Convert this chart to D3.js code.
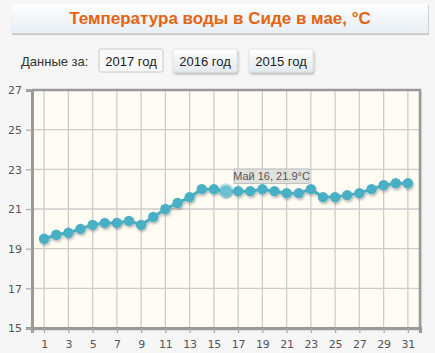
<!DOCTYPE html>
<html>
<head>
<meta charset="utf-8">
<script src="https://cdn.jsdelivr.net/npm/d3@7"></script>
<style>
  html, body { margin: 0; padding: 0; background: #f6f6f6; }
  svg { display: block; font-family: "Liberation Sans", Arial, sans-serif; }
</style>
</head>
<body>
<div id="chart"></div>
<script>
(function() {
  var days = d3.range(1, 32);
  var temps = [19.5, 19.7, 19.8, 20.0, 20.2, 20.3, 20.3, 20.4, 20.2, 20.6,
               21.0, 21.3, 21.6, 22.0, 22.0, 21.9, 21.9, 21.9, 22.0, 21.9,
               21.8, 21.8, 22.0, 21.6, 21.6, 21.7, 21.8, 22.0, 22.2, 22.3, 22.3];
  var yTicks = [15, 17, 19, 21, 23, 25, 27];
  var xTicks = [1, 3, 5, 7, 9, 11, 13, 15, 17, 19, 21, 23, 25, 27, 29, 31];
  var years = ['2017 год', '2016 год', '2015 год'];
  var title = 'Температура воды в Сиде в мае, °C';
  var hoverDay = 16;

  var W = 435, H = 353;
  var svg = d3.select('#chart').append('svg').attr('width', W).attr('height', H);
  var defs = svg.append('defs');

  var grad = defs.append('linearGradient').attr('id', 'hdr').attr('x1', 0).attr('y1', 0).attr('x2', 0).attr('y2', 1);
  grad.append('stop').attr('offset', '0%').attr('stop-color', '#ffffff');
  grad.append('stop').attr('offset', '100%').attr('stop-color', '#e7eff5');

  var bgrad = defs.append('linearGradient').attr('id', 'btn').attr('x1', 0).attr('y1', 0).attr('x2', 0).attr('y2', 1);
  bgrad.append('stop').attr('offset', '0%').attr('stop-color', '#ffffff');
  bgrad.append('stop').attr('offset', '100%').attr('stop-color', '#e3e9ee');

  var shadow = defs.append('filter').attr('id', 'shd').attr('x', '-20%').attr('y', '-20%').attr('width', '140%').attr('height', '160%');
  shadow.append('feDropShadow').attr('dx', 1).attr('dy', 2).attr('stdDeviation', 1.2)
    .attr('flood-color', '#000').attr('flood-opacity', 0.25);

  // header
  svg.append('rect').attr('x', 12).attr('y', 5).attr('width', 417).attr('height', 30).attr('fill', '#c8c8c8');
  svg.append('rect').attr('x', 11).attr('y', 3).attr('width', 417).attr('height', 30)
    .attr('fill', 'url(#hdr)').attr('stroke', '#eceff2').attr('stroke-width', 0.6);
  svg.append('text').attr('x', 220).attr('y', 24).attr('text-anchor', 'middle')
    .attr('font-size', 17).attr('font-weight', 'bold').attr('fill', '#e8630f').text(title);

  // year buttons
  svg.append('text').attr('x', 21).attr('y', 66).attr('font-size', 13).attr('fill', '#333').text('Данные за:');
  var btnX = [99, 173, 249];
  var btn = svg.selectAll('g.btn').data(years).enter().append('g').attr('class', 'btn')
    .attr('transform', function(d, i) { return 'translate(' + btnX[i] + ',49)'; });
  btn.append('rect').attr('width', 64).attr('height', 23).attr('rx', 2)
    .attr('fill', function(d, i) { return i === 0 ? '#f9f9f9' : 'url(#btn)'; })
    .attr('stroke', function(d, i) { return i === 0 ? '#c9c9c9' : '#dde2e6'; })
    .attr('filter', function(d, i) { return i === 0 ? null : 'url(#shd)'; });
  btn.append('text').attr('x', 32).attr('y', 16.5).attr('text-anchor', 'middle')
    .attr('font-size', 13).attr('fill', '#222').text(function(d) { return d; });

  // chart
  var x = d3.scaleLinear().domain([0, 32]).range([32, 420]);
  var y = d3.scaleLinear().domain([15, 27]).range([328, 90]);

  svg.append('rect').attr('x', x(0)).attr('y', y(27)).attr('width', x(32) - x(0)).attr('height', y(15) - y(27))
    .attr('fill', '#fffcf3').attr('filter', 'url(#shd)');

  svg.append('g').selectAll('line').data(xTicks).enter().append('line')
    .attr('x1', function(d) { return x(d); }).attr('x2', function(d) { return x(d); })
    .attr('y1', y(27)).attr('y2', y(15)).attr('stroke', '#cccccc').attr('stroke-width', 1.3);
  svg.append('g').selectAll('line').data(yTicks.slice(1, -1)).enter().append('line')
    .attr('x1', x(0)).attr('x2', x(32))
    .attr('y1', function(d) { return y(d); }).attr('y2', function(d) { return y(d); })
    .attr('stroke', '#cccccc').attr('stroke-width', 1.3);

  // frame
  svg.append('path').attr('d', 'M' + x(0) + ',' + y(27) + 'H' + x(32) + 'V' + y(15))
    .attr('fill', 'none').attr('stroke', '#999').attr('stroke-width', 2.5);

  var xAxis = svg.append('g').attr('transform', 'translate(0,' + y(15) + ')')
    .call(d3.axisBottom(x).tickValues([0].concat(xTicks)).tickSize(5).tickPadding(7).tickFormat(function(d) { return d ? d : ''; }));
  var yAxis = svg.append('g').attr('transform', 'translate(' + x(0) + ',0)')
    .call(d3.axisLeft(y).tickValues(yTicks).tickSize(6).tickPadding(4));
  [xAxis, yAxis].forEach(function(a) {
    a.select('.domain').attr('stroke', '#999').attr('stroke-width', 3);
    a.selectAll('.tick line').attr('stroke', '#aaa').attr('stroke-width', 1.2);
    a.selectAll('text').attr('fill', '#545454').attr('font-size', 11).attr('font-family', 'Tahoma, "DejaVu Sans", sans-serif');
  });
  yAxis.selectAll('text').attr('dy', '0.35em');

  // series
  var line = d3.line().x(function(d, i) { return x(days[i]); }).y(function(d) { return y(d); });
  var series = svg.append('g').attr('filter', 'url(#shd)');
  series.append('path').datum(temps).attr('d', line).attr('fill', 'none')
    .attr('stroke', '#4aafc5').attr('stroke-width', 3);
  series.selectAll('circle').data(temps).enter().append('circle')
    .attr('cx', function(d, i) { return x(days[i]); }).attr('cy', function(d) { return y(d); })
    .attr('r', 5.2).attr('fill', '#4aafc5');

  var hv = temps[hoverDay - 1];
  svg.append('circle').attr('cx', x(hoverDay)).attr('cy', y(hv)).attr('r', 8)
    .attr('fill', '#4aafc5').attr('fill-opacity', 0.35);
  svg.append('circle').attr('cx', x(hoverDay)).attr('cy', y(hv)).attr('r', 6)
    .attr('fill', '#6cc0d2');

  // tooltip
  var tip = svg.append('g').attr('transform', 'translate(234,169)');
  tip.append('rect').attr('width', 75).attr('height', 14.5)
    .attr('fill', '#dcdcdc').attr('fill-opacity', 0.85).attr('stroke', '#c0c0c0');
  tip.append('text').attr('x', 37.5).attr('y', 11).attr('text-anchor', 'middle')
    .attr('font-size', 11).attr('fill', '#555').attr('font-family', '"Liberation Sans", Arial, sans-serif')
    .text('Май ' + hoverDay + ', ' + hv.toFixed(1) + '°C');
})();
</script>
</body>
</html>
